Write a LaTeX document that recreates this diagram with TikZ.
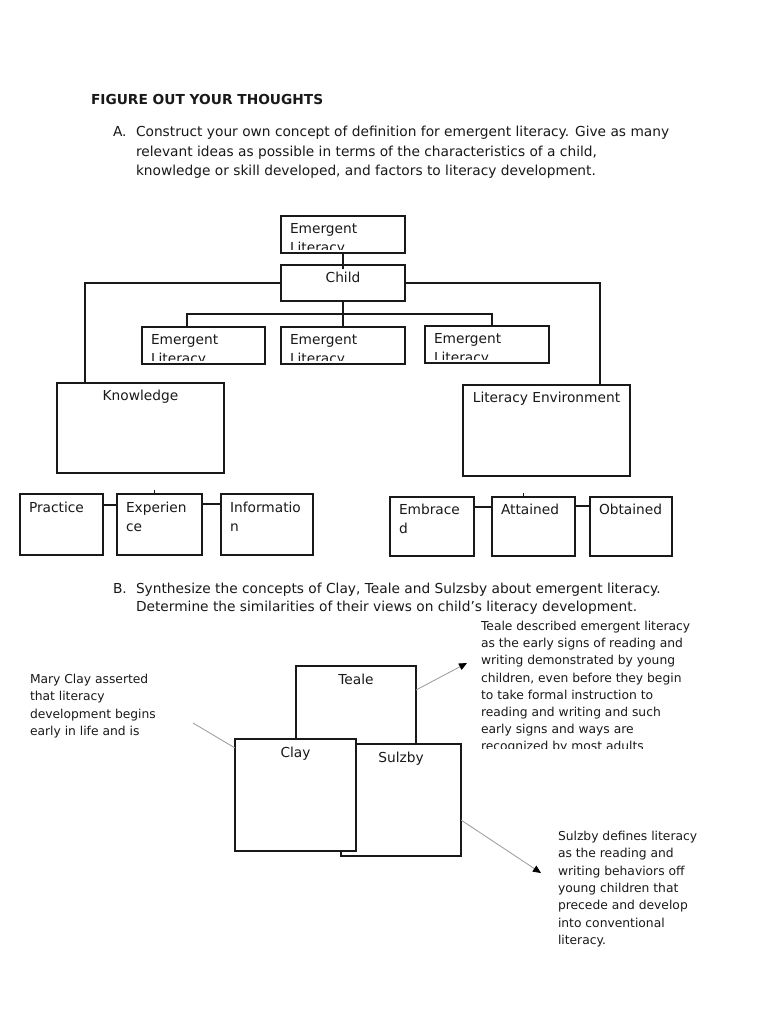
\documentclass[tikz,border=0pt]{standalone}
\usepackage{fontspec}
\setmainfont{DejaVu Sans}
\usetikzlibrary{arrows.meta}
\newcommand\fa{\fontsize{13.75}{19.5}\selectfont}
\newcommand\fb{\fontsize{12.3}{17.3}\selectfont}
\newcommand\bx[5]{\node[box,minimum width={#4-#2},minimum height={#5-#3}] (#1) at ({(#2+#4)/2},{(#3+#5)/2}) {};}
\newcommand\txl[4][]{\node[txt,anchor=base west,#1] (#2) at (#3) {#4};}
\newcommand\txc[4][]{\node[txt,anchor=base,#1] (#2) at (#3) {#4};}
\begin{document}
\begin{tikzpicture}[x=1pt,y=-1pt,
  box/.style={draw=black!90,line width=1.05pt,fill=white,inner sep=0pt,outer sep=0pt},
  txt/.style={inner sep=0pt,outer sep=0pt,font=\fa,text=black!90},
  small/.style={font=\fb},
  conn/.style={draw=black!90,line width=1.05pt},
  pointer/.style={draw=black!40,line width=0.8pt},
  tip/.style={-{Triangle[length=8pt,width=7pt,color=black]}}]
\useasboundingbox[fill=white] (0,0) rectangle (768,1024);

% heading and part A
\txl[font=\fa\bfseries]{head}{91,105}{FIGURE OUT YOUR THOUGHTS}
\txl{aA}{113,137}{A.}
\txl{a1}{136,137}{Construct your own concept of definition for emergent literacy. Give as many}
\txl{a2}{136,156.5}{relevant ideas as possible in terms of the characteristics of a child,}
\txl{a3}{136,176}{knowledge or skill developed, and factors to literacy development.}

% tree
\bx{el0}{281}{216}{405}{253}
\bx{child}{281}{265}{405}{301}
\bx{ell}{142}{327}{265}{364}
\bx{elm}{281}{327}{405}{364}
\bx{elr}{425}{326}{549}{363}
\bx{know}{57}{383}{224}{473}
\bx{env}{463}{385}{630}{476}
\bx{prac}{20}{494}{103}{555}
\bx{exp}{117}{494}{202}{555}
\bx{info}{221}{494}{313}{555}
\bx{emb}{390}{497}{474}{556}
\bx{att}{492}{497}{575}{556}
\bx{obt}{590}{497}{672}{556}

\draw[conn] (el0.south) -- ([yshift=-4pt]child.north);
\draw[conn] (child.west) -| ([xshift=28pt]know.north west);
\draw[conn] (child.east) -| ([xshift=137pt]env.north west);
\draw[conn] (child.south) -- (elm.north);
\draw[conn] ([xshift=45pt]ell.north west) -- ++(0,-13) -| ([xshift=67pt]elr.north west);
\draw[conn] ([yshift=-11pt]prac.north east) -- ([yshift=-11pt]exp.north west);
\draw[conn] ([yshift=-10pt]exp.north east) -- ([yshift=-10pt]info.north west);
\draw[conn] ([yshift=-10pt]emb.north east) -- ([yshift=-10pt]att.north west);
\draw[conn] ([yshift=-9pt]att.north east) -- ([yshift=-9pt]obt.north west);
\coordinate (tk1) at (154,490);
\coordinate (tk2) at (523,493);
\draw[conn,line width=0.6pt] (tk1) -- (tk1 |- exp.north);
\draw[conn,line width=0.6pt] (tk2) -- (tk2 |- att.north);

% box texts
\begin{scope}
\clip ([shift={(1pt,-1pt)}]el0.north west) rectangle ([shift={(-1pt,3.5pt)}]el0.south east);
\txl{el0a}{290,233.5}{Emergent}
\txl{el0b}{290,252.5}{Literacy}
\end{scope}
\txc{childt}{343,282.5}{Child}
\begin{scope}
\clip ([shift={(1pt,-1pt)}]ell.north west) rectangle ([shift={(-1pt,3.5pt)}]ell.south east);
\txl{ella}{151,344.5}{Emergent}
\txl{ellb}{151,363.5}{Literacy}
\end{scope}
\begin{scope}
\clip ([shift={(1pt,-1pt)}]elm.north west) rectangle ([shift={(-1pt,3.5pt)}]elm.south east);
\txl{elma}{290,344.5}{Emergent}
\txl{elmb}{290,363.5}{Literacy}
\end{scope}
\begin{scope}
\clip ([shift={(1pt,-1pt)}]elr.north west) rectangle ([shift={(-1pt,3.5pt)}]elr.south east);
\txl{elra}{434,343.5}{Emergent}
\txl{elrb}{434,362.5}{Literacy}
\end{scope}
\txc{knowt}{140.5,400}{Knowledge}
\txc{envt}{546.5,402}{Literacy Environment}
\txl{pract}{29,512}{Practice}
\txl{expa}{126,512}{Experien}
\txl{expb}{126,531}{ce}
\txl{infoa}{230,512}{Informatio}
\txl{infob}{230,531}{n}
\txl{emba}{399,514}{Embrace}
\txl{embb}{399,533}{d}
\txl{attt}{501,514}{Attained}
\txl{obtt}{599,514}{Obtained}

% part B
\txl{bB}{113,593.5}{B.}
\txl{b1}{136,593.5}{Synthesize the concepts of Clay, Teale and Sulzsby about emergent literacy.}
\txl{b2}{136,611.5}{Determine the similarities of their views on child’s literacy development.}

% lower diagram
\bx{teale}{296}{666}{416}{760}
\bx{sulz}{341}{744}{461}{856}
\bx{clay}{235}{739}{356}{851}
\txc{tealet}{356,684}{Teale}
\txc{clayt}{295.5,757}{Clay}
\txc{sulzt}{401,762}{Sulzby}

\coordinate (clayend) at (193,723);
\coordinate (tealeend) at (467,663);
\coordinate (sulzend) at (541,873);
\draw[pointer] ([yshift=-9pt]clay.north west) -- (clayend);
\draw[pointer,tip] ([yshift=-24pt]teale.north east) -- (tealeend);
\draw[pointer,tip] ([yshift=-76pt]sulz.north east) -- (sulzend);

% annotations
\begin{scope}
\clip (25,660) rectangle (200,738.5);
\txl[small]{m1}{30,683.5}{Mary Clay asserted}
\txl[small]{m2}{30,700.8}{that literacy}
\txl[small]{m3}{30,718.1}{development begins}
\txl[small]{m4}{30,735.4}{early in life and is}
\end{scope}
\begin{scope}
\clip (475,612) rectangle (720,748);
\txl[small]{t1}{481,630.5}{Teale described emergent literacy}
\txl[small]{t2}{481,647.7}{as the early signs of reading and}
\txl[small]{t3}{481,664.9}{writing demonstrated by young}
\txl[small]{t4}{481,682.1}{children, even before they begin}
\txl[small]{t5}{481,699.3}{to take formal instruction to}
\txl[small]{t6}{481,716.5}{reading and writing and such}
\txl[small]{t7}{481,733.7}{early signs and ways are}
\txl[small]{t8}{481,750.9}{recognized by most adults}
\end{scope}
\txl[small]{s1}{558,840.5}{Sulzby defines literacy}
\txl[small]{s2}{558,857.8}{as the reading and}
\txl[small]{s3}{558,875.1}{writing behaviors off}
\txl[small]{s4}{558,892.4}{young children that}
\txl[small]{s5}{558,909.7}{precede and develop}
\txl[small]{s6}{558,927.0}{into conventional}
\txl[small]{s7}{558,944.3}{literacy.}
\end{tikzpicture}
\end{document}
